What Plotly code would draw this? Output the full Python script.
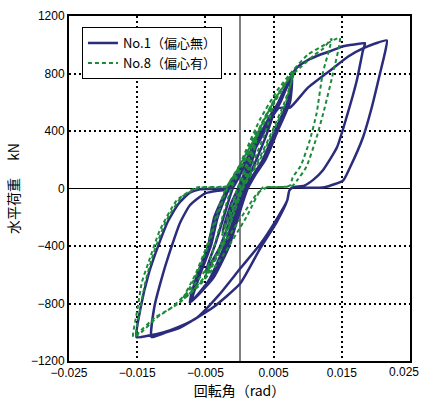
import plotly.graph_objects as go

# ---- data (rotation angle in rad, horizontal load in kN) ----
no1_rot = [0.0, 0.0012, 0.0025, 0.0012, 0.0002, -0.0012, -0.0025,
           -0.0012, -0.0002, 0.0015, 0.0035, 0.0052,
           0.0040, 0.0022, 0.0006, -0.0012, -0.0030, -0.0050,
           -0.0035, -0.0022, -0.0010, 0.0013, 0.0036, 0.0058, 0.0076,
           0.0070, 0.0052, 0.0034, 0.0008, -0.0008, -0.0022, -0.0045, -0.0070,
           -0.0058, -0.0042, -0.0032, -0.0015, 0.0014, 0.0037, 0.0060, 0.0075,
           0.0072, 0.0054, 0.0036, 0.0012, -0.0002, -0.0015, -0.0038, -0.0072,
           -0.0060, -0.0044, -0.0035, -0.0016, 0.0012, 0.0035, 0.0059, 0.0077,
           0.0074, 0.0056, 0.0038, 0.0010, -0.0005, -0.0018, -0.0040, -0.0073,
           -0.0062, -0.0046, -0.0037, -0.0018, 0.0010, 0.0033, 0.0057, 0.0074,
           0.0085, 0.0099, 0.0115, 0.0133, 0.0152, 0.0170, 0.0184,
           0.0181, 0.0172, 0.0157, 0.0143, 0.0122, 0.0108, 0.0095, 0.0078, 0.0073, 0.0070,
           0.0055, 0.0030, 0.0001, -0.0039, -0.0087, -0.0110, -0.0129,
           -0.0125, -0.0112, -0.0100, -0.0087, -0.0073, -0.0051, -0.0029, -0.0011,
           0.0012, 0.0035, 0.0058, 0.0074, 0.0100, 0.0133, 0.0160, 0.0181, 0.0200, 0.0216,
           0.0214, 0.0206, 0.0194, 0.0181, 0.0162, 0.0152, 0.0125, 0.0100, 0.0078, 0.0073, 0.0070,
           0.0055, 0.0030, 0.0001, -0.0030, -0.0062, -0.0090, -0.0112, -0.0135, -0.0151,
           -0.0145, -0.0133, -0.0120, -0.0105, -0.0090, -0.0073, -0.0058, -0.0014, 0.0010, 0.0030]
no1_load = [0, 150, 300, 100, 0, -150, -300,
            -100, 0, 200, 420, 560,
            380, 170, 0, -200, -420, -580,
            -380, -180, 0, 200, 400, 600, 775,
            600, 400, 200, 0, -200, -400, -640, -780,
            -600, -400, -200, 0, 200, 400, 600, 765,
            600, 400, 200, 0, -200, -400, -620, -790,
            -600, -400, -200, 0, 200, 400, 600, 770,
            600, 400, 200, 0, -200, -400, -620, -795,
            -600, -400, -200, 0, 200, 400, 600, 772,
            845, 890, 925, 955, 990, 1003, 1011,
            960, 751, 496, 287, 125, 60, 20, 7, -14, -83,
            -230, -420, -661, -828, -967, -1005, -1034,
            -828, -591, -410, -237, -118, -35, -14, 0,
            200, 400, 560, 563, 700, 821, 920, 974, 1010, 1030,
            960, 800, 565, 355, 146, 56, 9, 5, 7, -14, -83,
            -209, -390, -557, -740, -897, -965, -1002, -1025, -1034,
            -830, -591, -410, -230, -110, -30, -5, 7, 200, 400]

no8_rot = [0.0, 0.0012, 0.0025, 0.0014, 0.0002, -0.0013, -0.0026,
           -0.0014, -0.0003, 0.0015, 0.0033, 0.0050,
           0.0040, 0.0020, 0.0005, -0.0012, -0.0030, -0.0050,
           -0.0038, -0.0025, -0.0012, 0.0012, 0.0032, 0.0055, 0.0080,
           0.0066, 0.0048, 0.0028, 0.0003, -0.0012, -0.0028, -0.0052, -0.0080,
           -0.0063, -0.0046, -0.0033, -0.0018, 0.0008, 0.0030, 0.0054, 0.0078,
           0.0068, 0.0050, 0.0030, 0.0005, -0.0010, -0.0025, -0.0050, -0.0083,
           -0.0065, -0.0048, -0.0035, -0.0020, 0.0005, 0.0028, 0.0052, 0.0075,
           0.0089, 0.0110, 0.0122, 0.0135,
           0.0122, 0.0113, 0.0103, 0.0090, 0.0078, 0.0074, 0.0055, 0.0034,
           0.0010, -0.0029, -0.0060, -0.0090, -0.0121, -0.0146, -0.0156,
           -0.0150, -0.0143, -0.0134, -0.0117, -0.0092, -0.0063, -0.0014,
           0.0008, 0.0030, 0.0055, 0.0080, 0.0100, 0.0125, 0.0147,
           0.0137, 0.0125, 0.0113, 0.0098, 0.0085, 0.0078, 0.0060, 0.0040, 0.0026,
           0.0000, -0.0039, -0.0070, -0.0100, -0.0124, -0.0149, -0.0152,
           -0.0146, -0.0138, -0.0126, -0.0108, -0.0085, -0.0060, -0.0020, 0.0005, 0.0025]
no8_load = [0, 170, 330, 150, 0, -170, -330,
            -150, 0, 230, 450, 600,
            420, 180, 0, -220, -450, -600,
            -420, -200, 0, 230, 450, 650, 810,
            600, 400, 200, 0, -200, -400, -620, -760,
            -600, -400, -200, 0, 200, 400, 620, 800,
            600, 400, 200, 0, -200, -400, -620, -770,
            -600, -400, -200, 0, 200, 400, 620, 780,
            841, 930, 970, 1041,
            800, 522, 334, 160, 77, 21, 8, 7,
            -200, -500, -680, -800, -897, -1009, -1034,
            -850, -650, -522, -292, -83, 7, 21,
            250, 480, 680, 830, 930, 1000, 1048,
            800, 563, 355, 150, 60, 20, 10, 7, -35,
            -220, -500, -690, -830, -897, -1009, -1025,
            -850, -650, -450, -230, -60, 5, 15, 200, 400]

series_names = ["No.1（偏心無）", "No.8（偏心有）"]
x_tick_vals = [-0.025, -0.015, -0.005, 0.005, 0.015, 0.025]
x_tick_text = ["−0.025", "−0.015", "−0.005", "0.005", "0.015", ""]
x_last_tick = 0.025
x_last_text = "0.025"
y_tick_vals = [-1200, -800, -400, 0, 400, 800, 1200]
y_tick_text = ["−1200", "−800", "−400", "0", "400", "800", "1200"]

BLUE = "#2B2C7C"
GREEN = "#1C8A3A"
FONT = "Liberation Sans, Noto Sans CJK JP, sans-serif"
CJK = "Noto Sans CJK JP, sans-serif"

fig = go.Figure()
fig.add_trace(go.Scatter(x=no1_rot, y=no1_load, mode="lines", name=series_names[0],
                         line=dict(color=BLUE, width=2.5, shape="spline", smoothing=0.5)))
fig.add_trace(go.Scatter(x=no8_rot, y=no8_load, mode="lines", name=series_names[1],
                         line=dict(color=GREEN, width=2, dash="4px,3px",
                                   shape="spline", smoothing=0.5)))

# last x tick label kept inside the page (right-aligned under the tick)
fig.add_annotation(x=x_last_tick, xref="x", y=0, yref="paper", yanchor="top",
                   xanchor="right", xshift=11, yshift=-2, showarrow=False,
                   text=x_last_text, font=dict(family=FONT, size=12, color="black"))

fig.update_layout(
    width=423, height=410,
    margin=dict(l=69, r=13, t=16, b=49, autoexpand=False),
    paper_bgcolor="white", plot_bgcolor="white",
    font=dict(family=FONT, size=12, color="black"),
    showlegend=True,
    legend=dict(x=0.038, y=0.968, xanchor="left", yanchor="top",
                bgcolor="white", bordercolor="black", borderwidth=1,
                font=dict(family=CJK, size=13, color="black"),
                tracegroupgap=0),
)
fig.update_xaxes(
    range=[-0.025, 0.025], tickmode="array", tickvals=x_tick_vals, ticktext=x_tick_text,
    automargin=False,
    showgrid=True, gridcolor="black", gridwidth=2, griddash="2px,3px",
    zeroline=True, zerolinecolor="#808080", zerolinewidth=1.5,
    showline=True, linecolor="black", linewidth=2, mirror=True,
    ticks="", tickfont=dict(size=12),
    title=dict(text="回転角（rad）", font=dict(family=CJK, size=14), standoff=4),
)
fig.update_yaxes(
    range=[-1200, 1200], tickmode="array", tickvals=y_tick_vals, ticktext=y_tick_text,
    automargin=False,
    showgrid=True, gridcolor="black", gridwidth=2, griddash="2px,3px",
    zeroline=True, zerolinecolor="black", zerolinewidth=1,
    showline=True, linecolor="black", linewidth=2, mirror=True,
    ticks="", tickfont=dict(size=12),
    title=dict(text="水平荷重　 kN", font=dict(family=CJK, size=14), standoff=8),
)

fig.write_html("out.html")
